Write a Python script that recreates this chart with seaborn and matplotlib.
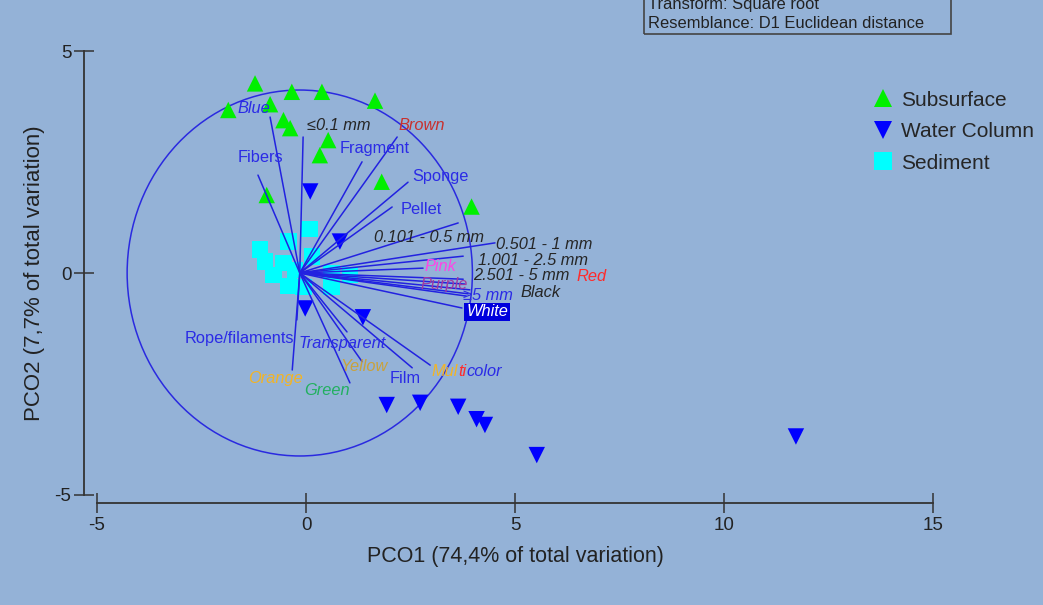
import numpy as np
import pandas as pd
import seaborn as sns
from matplotlib import pyplot as plt
from matplotlib.patches import Rectangle, Ellipse

# sample scores (PCO1, PCO2)
sub_x = [-1.22, -1.86, -0.34, 0.38, 1.65, -0.86, -0.54, -0.38, 0.53, 0.33, 1.81, -0.94, 3.96]
sub_y = [4.28, 3.68, 4.09, 4.09, 3.89, 3.81, 3.45, 3.27, 3.00, 2.66, 2.06, 1.76, 1.50]
wc_x = [0.10, 0.81, -0.02, 1.36, 1.93, 2.73, 3.64, 4.08, 4.28, 5.52, 11.72]
wc_y = [1.84, 0.71, -0.80, -1.00, -2.98, -2.93, -3.02, -3.30, -3.43, -4.11, -3.69]
sed_x = [0.08, -0.42, -1.10, -0.98, -0.54, 0.14, -0.78, -0.42, -0.06, 0.61, 1.05, 0.61, -0.26]
sed_y = [0.99, 0.71, 0.53, 0.26, 0.23, 0.37, -0.05, -0.29, -0.31, -0.01, -0.05, -0.32, 0.07]

# vector overlay (end points), origin at circle centre
vec_names = ['Blue', '≤0.1 mm', 'Fibers', 'Fragment', 'Brown', 'Sponge', 'Pellet',
             '0.101 - 0.5 mm', '0.501 - 1 mm', '1.001 - 2.5 mm', 'Pink', '2.501 - 5 mm',
             'Red', 'Purple', 'Black', '≥5 mm', 'White', 'Multicolor', 'Film', 'Yellow',
             'Transparent', 'Green', 'Orange', 'Rope/filaments']
vec_x = [-0.86, -0.07, -1.15, 1.34, 2.18, 2.44, 2.06, 3.64, 4.52, 3.76, 2.80, 3.76,
         3.80, 3.92, 3.88, 3.83, 3.73, 2.97, 2.54, 1.34, 0.98, 1.05, -0.33, -0.22]
vec_y = [3.52, 3.07, 2.21, 2.51, 3.07, 2.05, 1.49, 1.13, 0.68, 0.38, 0.11, -0.14,
         -0.25, -0.38, -0.47, -0.52, -0.79, -2.08, -2.14, -2.00, -1.33, -2.48, -2.19, -1.06]
origin = (-0.15, 0.0)
circle_r = 4.13

# label placement: (x, y, colour, italic)
BLUE = '#2b2be6'
DARK = '#262626'
ORANGE = '#f2b426'
RED = '#ff2a2a'
label_style = {
    'Blue': (-1.24, 3.72, BLUE, True),
    '≤0.1 mm': (0.79, 3.34, DARK, True),
    'Brown': (2.78, 3.32, '#c8302e', True),
    'Fibers': (-1.10, 2.60, BLUE, False),
    'Fragment': (1.63, 2.82, BLUE, False),
    'Sponge': (3.21, 2.17, BLUE, False),
    'Pellet': (2.75, 1.44, BLUE, False),
    '0.101 - 0.5 mm': (2.94, 0.81, DARK, True),
    '0.501 - 1 mm': (5.69, 0.65, DARK, True),
    '1.001 - 2.5 mm': (5.43, 0.29, DARK, True),
    'Pink': (3.21, 0.14, '#ff44e6', True),
    '2.501 - 5 mm': (5.14, -0.05, DARK, True),
    'Red': (6.84, -0.09, RED, True),
    'Purple': (3.30, -0.27, '#a03aa0', True),
    'Black': (5.60, -0.43, DARK, True),
    '≥5 mm': (4.35, -0.50, BLUE, True),
    'White': (4.33, -0.88, 'white', True),
    'Film': (2.37, -2.37, BLUE, False),
    'Yellow': (1.39, -2.12, '#c9a23c', True),
    'Transparent': (0.86, -1.58, BLUE, True),
    'Green': (0.50, -2.66, '#22b060', True),
    'Orange': (-0.72, -2.37, ORANGE, True),
    'Rope/filaments': (-1.60, -1.47, BLUE, False),
}

groups = ['Subsurface', 'Water Column', 'Sediment']
df = pd.DataFrame({
    'x': sub_x + wc_x + sed_x,
    'y': sub_y + wc_y + sed_y,
    'group': ['Subsurface'] * len(sub_x) + ['Water Column'] * len(wc_x) + ['Sediment'] * len(sed_x),
})

bg = '#94b2d7'
sns.set_style('white')
plt.rcParams['font.family'] = ['Liberation Sans', 'DejaVu Sans']
plt.rcParams['axes.unicode_minus'] = False

fig = plt.figure(figsize=(10.43, 6.05), dpi=100, facecolor=bg)
ax = fig.add_axes([0.0730, 0.1460, 0.8416, 0.8055])
ax.set_facecolor(bg)

# vectors and circle
for n, vx, vy in zip(vec_names, vec_x, vec_y):
    ax.plot([origin[0], vx], [origin[1], vy], color='#2222e0', lw=1.1, zorder=3)
ax.add_patch(Ellipse(origin, 2 * circle_r, 2 * circle_r, fill=False, ec='#2a2ae0', lw=1.1, zorder=2))

sns.scatterplot(data=df, x='x', y='y', hue='group', style='group', hue_order=groups, style_order=groups,
                markers={'Subsurface': '^', 'Water Column': 'v', 'Sediment': 's'},
                palette={'Subsurface': '#00f000', 'Water Column': '#0000ff', 'Sediment': '#00ffff'},
                s=140, linewidth=0, ax=ax, zorder=2)
for coll in ax.collections:
    coll.set_zorder(2)

fs = 11.8
for n, (lx, ly, col, it) in label_style.items():
    kw = dict(ha='center', va='center', fontsize=fs, color=col,
              style='italic' if it else 'normal', zorder=5)
    if n == 'White':
        kw['bbox'] = dict(boxstyle='square,pad=0.1', fc='#0000dd', ec='none')
    ax.text(lx, ly, n, **kw)

# Multicolor label in three colours, pieces chained
t = ax.text(3.01, -2.23, 'Mul', ha='left', va='center', fontsize=fs, color=ORANGE, style='italic', zorder=5)
t = ax.annotate('ti', xy=(1, 0), xycoords=t, ha='left', va='bottom', fontsize=fs, color=RED,
                style='italic', zorder=5)
ax.annotate('color', xy=(1, 0), xycoords=t, ha='left', va='bottom', fontsize=fs, color=BLUE,
            style='italic', zorder=5)

ax.set_xlim(-5.5, 15.5)
ax.set_ylim(-5.5, 5.5)
ax.set_xticks([-5, 0, 5, 10, 15])
ax.set_yticks([-5, 0, 5])
ax.spines['top'].set_visible(False)
ax.spines['right'].set_visible(False)
ax.spines['left'].set_position(('data', -5.3))
ax.spines['bottom'].set_position(('data', -5.19))
ax.spines['left'].set_bounds(-5, 5)
ax.spines['bottom'].set_bounds(-5, 15)
for s in ['left', 'bottom']:
    ax.spines[s].set_color('#333333')
    ax.spines[s].set_linewidth(1.3)
ax.tick_params(bottom=True, left=True, direction='inout', length=14, width=1.1, color='#333333',
               labelsize=13.5, labelcolor='#222222', pad=3)
ax.tick_params(axis='y', pad=2.5)
ax.set_xlabel('PCO1 (74,4% of total variation)', fontsize=15.5, color='#222222', labelpad=9)
ax.set_ylabel('PCO2 (7,7% of total variation)', fontsize=16, color='#222222', labelpad=7)

leg = ax.legend(loc='upper left', bbox_to_anchor=(0.829, 0.864), bbox_transform=fig.transFigure,
                frameon=False, fontsize=15, handlelength=1.0, handletextpad=0.35, labelspacing=0.6,
                borderaxespad=0, markerscale=1.15)

# info box at top
fig.patches.append(Rectangle((644 / 1043, 1 - 34 / 605), 307 / 1043, 0.1, transform=fig.transFigure,
                             fill=False, ec='#444444', lw=1.2))
fig.text(648 / 1043, 1 - 5 / 605, 'Transform: Square root', fontsize=11.9, color='#222222', va='center')
fig.text(648 / 1043, 1 - 24 / 605, 'Resemblance: D1 Euclidean distance', fontsize=11.9, color='#222222',
         va='center')

fig.savefig('out.png', dpi=100, facecolor=bg)
